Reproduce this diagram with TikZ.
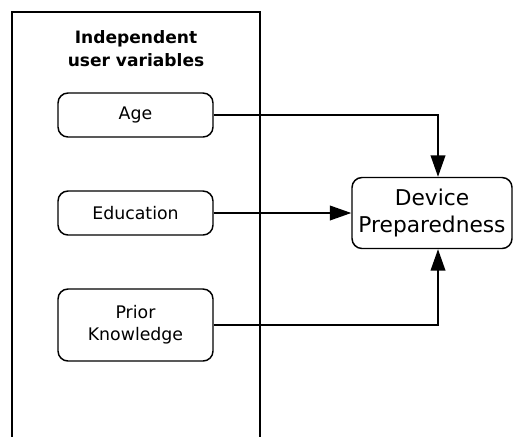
\documentclass[tikz,border=0pt]{standalone}
\usepackage{fontspec}
\setmainfont{DejaVu Sans}
\usetikzlibrary{arrows.meta}

\begin{document}
\begin{tikzpicture}[x=0.75pt,y=-0.75pt,line width=1.1pt]
        \tikzstyle{varbox}=[draw=black,rounded corners=7.5pt,minimum width=116.25pt,minimum height=33pt,inner sep=0pt,align=center,font=\fontsize{13}{16.5}\selectfont]
        \tikzstyle{outcome}=[draw=black,rounded corners=7.5pt,minimum width=120pt,minimum height=53.25pt,inner sep=0pt,align=center,font=\fontsize{16.3}{20.5}\selectfont]
        \tikzstyle{edge}=[draw,-{Triangle[length=16pt,width=11pt]}]
        \useasboundingbox (0,0) rectangle (513,436);
       \begin{scope}
         % frame of the user variables, open at the bottom
         \draw (12,440) -- (12,12) -- (260,12) -- (260,440);
         \node [align=center,font=\bfseries\fontsize{12.8}{17.25}\selectfont] (title) at (136,48.5) {Independent\\user variables};

         \node [varbox] (age) at (135.5,115) {Age};
         \node [varbox] (edu) at (135.5,213) {Education};
         \node [varbox,minimum height=54pt] (prior) at (135.5,325) {Prior\\Knowledge};
         \node [outcome] (dp) at (432,213) {Device\\Preparedness};

         \path[edge] (age.east) -| ([xshift=4.5pt]dp.north);
         \path[edge] (edu.east) -- (dp.west);
         \path[edge] (prior.east) -| ([xshift=4.5pt]dp.south);
        \end{scope}
      \end{tikzpicture}
\end{document}
